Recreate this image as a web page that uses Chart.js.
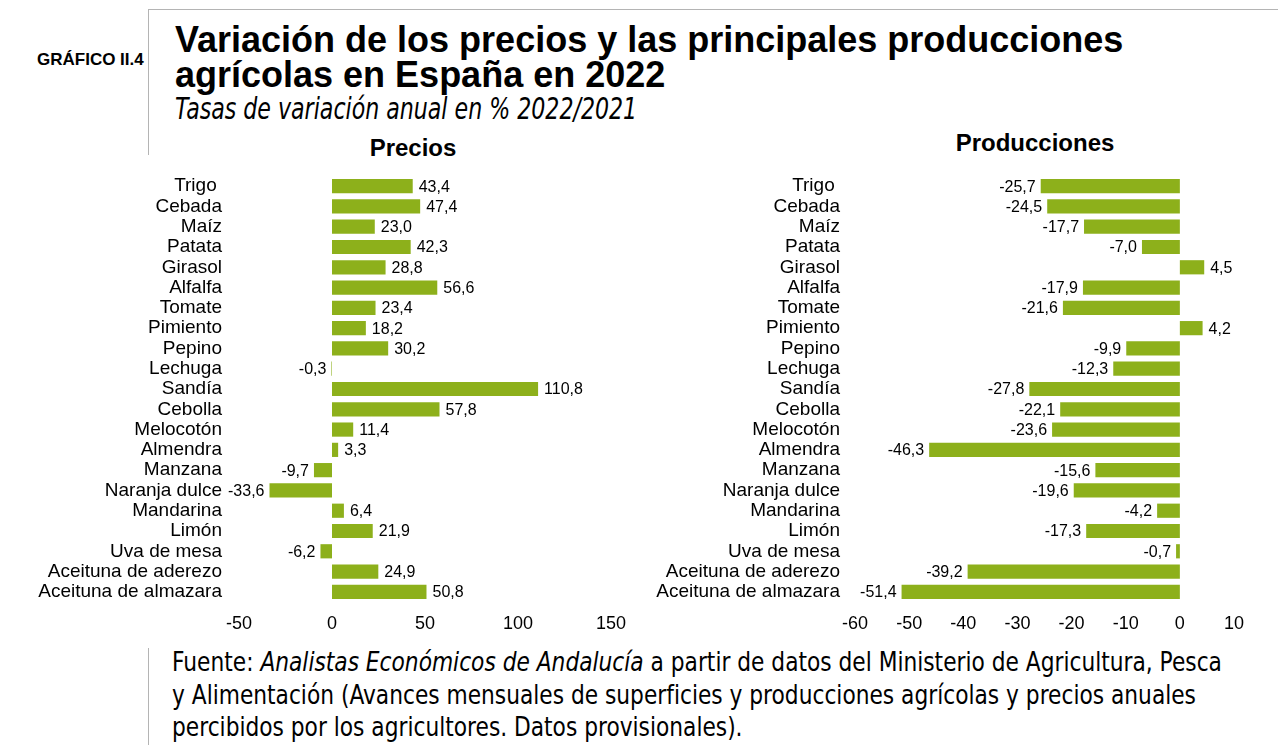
<!DOCTYPE html>
<html lang="es">
<head>
<meta charset="utf-8">
<script src="https://cdn.jsdelivr.net/npm/chart.js@4"></script>
<style>
  html, body { margin: 0; padding: 0; background: #fff; }
  body { width: 1278px; height: 745px; position: relative; overflow: hidden; font-family: "Liberation Sans", Arial, sans-serif; color: #000; }
  .abs { position: absolute; }
  .line { position: absolute; background: #b4b4b4; }
  .fit { white-space: nowrap; display: inline-block; transform-origin: left center; }
  #gtag { left: 37px; top: 50px; font-weight: bold; font-size: 17px; }
  #title { left: 175px; top: 22px; font-weight: bold; font-size: 36px; line-height: 35px; white-space: nowrap; }
  #subtitle { left: 175px; top: 93px; font-family: "DejaVu Sans", sans-serif; font-style: italic; font-size: 30px; line-height: 32px; }
  .ptitle { font-weight: bold; font-size: 24px; transform: translateX(-50%); white-space: nowrap; }
  #footer { left: 172px; top: 646px; font-family: "DejaVu Sans", sans-serif; font-size: 27px; line-height: 32.5px; }
  #footer div { white-space: nowrap; }
  .chartbox { position: absolute; top: 160px; height: 480px; }
</style>
</head>
<body>
<div class="line" style="left:148px; top:9px; width:1130px; height:1px;"></div>
<div class="line" style="left:148px; top:9px; width:1px; height:146px;"></div>
<div class="line" style="left:148px; top:648px; width:1px; height:97px;"></div>

<div id="gtag" class="abs">GRÁFICO II.4</div>
<div id="title" class="abs">Variación de los precios y las principales producciones<br>agrícolas en España en 2022</div>
<div id="subtitle" class="abs"><span class="fit">Tasas de variación anual en % 2022/2021</span></div>

<div class="abs ptitle" style="left:413px; top:134px;">Precios</div>
<div class="abs ptitle" style="left:1035px; top:129px;">Producciones</div>

<div class="chartbox" style="left:0px; width:640px;"><canvas id="c1"></canvas></div>
<div class="chartbox" style="left:640px; width:638px;"><canvas id="c2"></canvas></div>

<div id="footer" class="abs">
  <div><span class="fit fl">Fuente: <i>Analistas Económicos de Andalucía</i> a partir de datos del Ministerio de Agricultura, Pesca</span></div>
  <div><span class="fit fl">y Alimentación (Avances mensuales de superficies y producciones agrícolas y precios anuales</span></div>
  <div><span class="fit fl">percibidos por los agricultores. Datos provisionales).</span></div>
</div>

<script>
// ---- Data ----
const categories = [
  "Trigo ", "Cebada", "Maíz", "Patata", "Girasol", "Alfalfa", "Tomate",
  "Pimiento", "Pepino", "Lechuga", "Sandía", "Cebolla", "Melocotón",
  "Almendra", "Manzana", "Naranja dulce", "Mandarina", "Limón",
  "Uva de mesa", "Aceituna de aderezo", "Aceituna de almazara"
];
const precios = [43.4, 47.4, 23.0, 42.3, 28.8, 56.6, 23.4, 18.2, 30.2, -0.3, 110.8,
                 57.8, 11.4, 3.3, -9.7, -33.6, 6.4, 21.9, -6.2, 24.9, 50.8];
const producciones = [-25.7, -24.5, -17.7, -7.0, 4.5, -17.9, -21.6, 4.2, -9.9, -12.3, -27.8,
                      -22.1, -23.6, -46.3, -15.6, -19.6, -4.2, -17.3, -0.7, -39.2, -51.4];
const preciosTicks = [-50, 0, 50, 100, 150];
const produccionesTicks = [-60, -50, -40, -30, -20, -10, 0, 10];

// ---- fit condensed texts ----
function fitTexts() {
  const sub = document.querySelector('#subtitle .fit');
  sub.style.transform = 'scaleX(' + (462 / sub.offsetWidth) + ')';
  const fl = document.querySelectorAll('.fl');
  const s = 1050 / fl[0].offsetWidth;
  fl.forEach(e => e.style.transform = 'scaleX(' + s + ')');
}
fitTexts();

const BAR_COLOR = '#8DB01B';
const FONT = 'Liberation Sans';

const valueLabels = {
  id: 'valueLabels',
  afterDatasetsDraw(chart) {
    const ctx = chart.ctx;
    const meta = chart.getDatasetMeta(0);
    const data = chart.data.datasets[0].data;
    ctx.save();
    ctx.font = '16px "' + FONT + '"';
    ctx.fillStyle = '#000';
    ctx.textBaseline = 'middle';
    meta.data.forEach((bar, i) => {
      const v = data[i];
      const txt = v.toFixed(1).replace('.', ',');
      if (v >= 0) {
        ctx.textAlign = 'left';
        ctx.fillText(txt, bar.x + 6, bar.y + 1);
      } else {
        ctx.textAlign = 'right';
        ctx.fillText(txt, bar.x - 5, bar.y + 1);
      }
    });
    ctx.restore();
  }
};

function makeChart(id, values, ticks, yWidth, padRight, labelPad) {
  return new Chart(document.getElementById(id), {
    type: 'bar',
    data: {
      labels: categories,
      datasets: [{
        data: values,
        backgroundColor: BAR_COLOR,
        borderWidth: 0,
        barPercentage: 0.7,
        categoryPercentage: 1.0
      }]
    },
    options: {
      indexAxis: 'y',
      responsive: true,
      maintainAspectRatio: false,
      animation: false,
      devicePixelRatio: 1,
      layout: { padding: { top: 16, right: padRight, bottom: 0, left: 0 } },
      plugins: { legend: { display: false }, tooltip: { enabled: false }, title: { display: false } },
      scales: {
        x: {
          type: 'linear',
          min: ticks[0],
          max: ticks[ticks.length - 1],
          afterBuildTicks(scale) { scale.ticks = ticks.map(v => ({ value: v })); },
          grid: { display: false, drawTicks: false },
          border: { display: false },
          ticks: {
            padding: 11,
            color: '#000',
            font: { family: FONT, size: 18 },
            maxRotation: 0,
            callback: v => String(v)
          },
          afterFit(scale) { scale.height = 38; }
        },
        y: {
          grid: { display: false, drawTicks: false },
          border: { display: false },
          ticks: {
            padding: labelPad,
            color: '#000',
            font: { family: FONT, size: 19 },
            autoSkip: false
          },
          afterFit(scale) {
            scale.width = yWidth;
            scale.paddingTop = 0;
            scale.paddingBottom = 0;
          }
        }
      }
    },
    plugins: [valueLabels]
  });
}

makeChart('c1', precios, preciosTicks, 239, 29, 17);
makeChart('c2', producciones, produccionesTicks, 215, 44, 15);
</script>
</body>
</html>
